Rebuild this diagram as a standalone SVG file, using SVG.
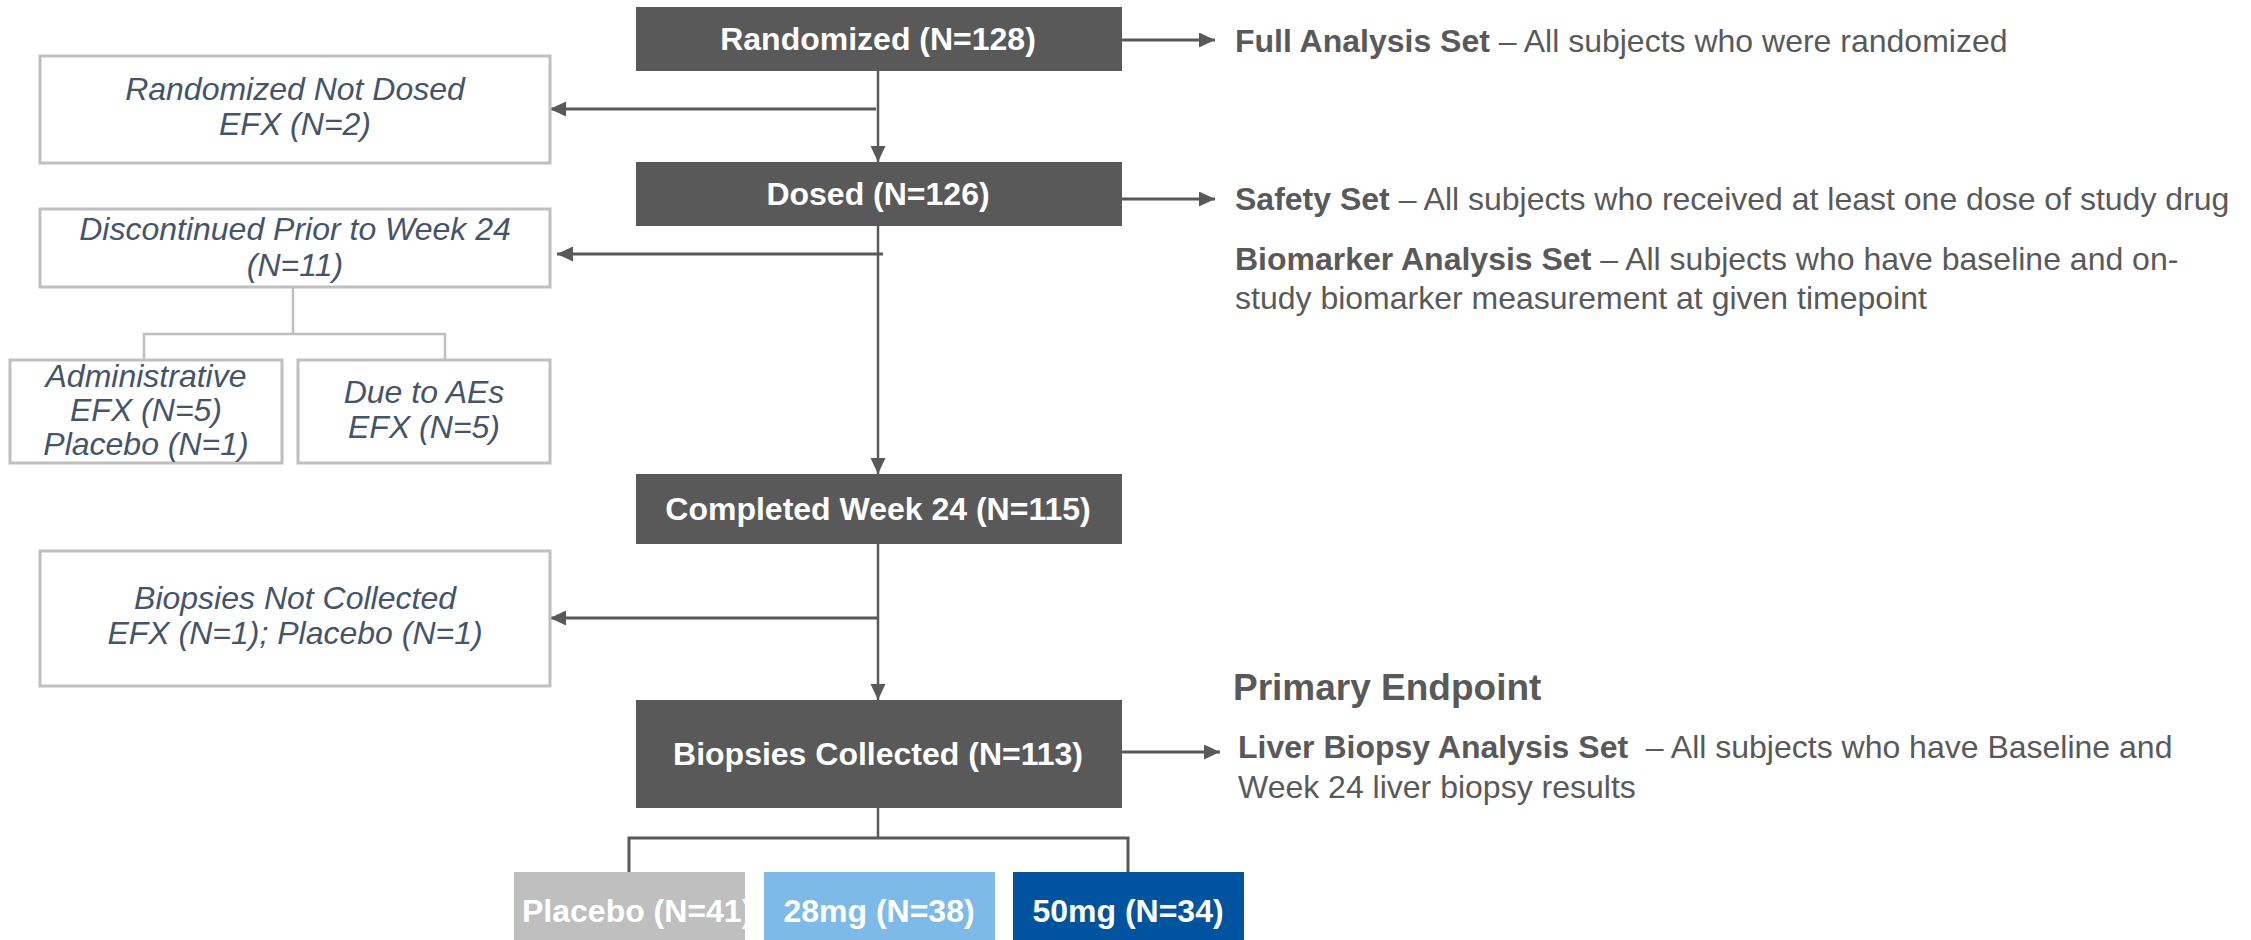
<svg xmlns="http://www.w3.org/2000/svg" width="2251" height="940" viewBox="0 0 2251 940">
<style>
text{font-family:"Liberation Sans",Arial,sans-serif;font-size:32px}
.big{font-size:37px}
.dark{fill:#595959}
.wt{fill:#ffffff;font-weight:bold;text-anchor:middle}
.it{fill:#44546A;font-style:italic;text-anchor:middle}
.ob{fill:#ffffff;stroke:#BFBFBF;stroke-width:3}
.rt{fill:#595959}
.b{font-weight:bold}
.conn{stroke:#595959;fill:none}
.thin{stroke:#BFBFBF;stroke-width:2.5;fill:none}
</style>
<defs>
<marker id="ah" markerUnits="userSpaceOnUse" markerWidth="16" markerHeight="16" refX="16" refY="7.5" orient="auto">
<path d="M0,0 L16,7.5 L0,15 z" fill="#595959"/>
</marker>
<clipPath id="clipPl"><rect x="514" y="872" width="231" height="68"/></clipPath>
</defs>
<rect width="2251" height="940" fill="#ffffff"/>

<g id="connectors">
<line class="conn" stroke-width="2.5" x1="878" y1="71" x2="878" y2="162" marker-end="url(#ah)"/>
<line class="conn" stroke-width="2.5" x1="878" y1="226" x2="878" y2="474" marker-end="url(#ah)"/>
<line class="conn" stroke-width="2.5" x1="878" y1="544" x2="878" y2="700" marker-end="url(#ah)"/>
<line class="conn" stroke-width="2.5" x1="878" y1="808" x2="878" y2="838"/>
<polyline class="conn" stroke-width="3" points="629,872 629,838 1128,838 1128,872"/>
<line class="conn" stroke-width="3" x1="876" y1="109" x2="550" y2="109" marker-end="url(#ah)"/>
<line class="conn" stroke-width="3" x1="883" y1="254" x2="557" y2="254" marker-end="url(#ah)"/>
<line class="conn" stroke-width="3" x1="877" y1="618" x2="550" y2="618" marker-end="url(#ah)"/>
<line class="conn" stroke-width="3" x1="1122" y1="40" x2="1215" y2="40" marker-end="url(#ah)"/>
<line class="conn" stroke-width="3" x1="1122" y1="199" x2="1215" y2="199" marker-end="url(#ah)"/>
<line class="conn" stroke-width="3" x1="1122" y1="752" x2="1220" y2="752" marker-end="url(#ah)"/>
<line class="thin" x1="293" y1="287" x2="293" y2="334"/>
<polyline class="thin" points="144,359 144,334 445,334 445,359"/>
</g>

<g id="randomized">
<rect class="dark" x="636" y="7" width="486" height="64"/>
<text class="wt" x="878" y="50">Randomized (N=128)</text>
</g>
<g id="dosed">
<rect class="dark" x="636" y="162" width="486" height="64"/>
<text class="wt" x="878" y="205">Dosed (N=126)</text>
</g>
<g id="completed">
<rect class="dark" x="636" y="474" width="486" height="70"/>
<text class="wt" x="878" y="520">Completed Week 24 (N=115)</text>
</g>
<g id="biopsies-collected">
<rect class="dark" x="636" y="700" width="486" height="108"/>
<text class="wt" x="878" y="765">Biopsies Collected (N=113)</text>
</g>

<g id="not-dosed">
<rect class="ob" x="40" y="56" width="510" height="107"/>
<text class="it" x="295" y="100">Randomized Not Dosed</text>
<text class="it" x="295" y="135">EFX (N=2)</text>
</g>
<g id="discontinued">
<rect class="ob" x="40" y="209" width="510" height="78"/>
<text class="it" x="295" y="240">Discontinued Prior to Week 24</text>
<text class="it" x="295" y="276">(N=11)</text>
</g>
<g id="administrative">
<rect class="ob" x="10" y="360" width="272" height="103"/>
<text class="it" x="146" y="387">Administrative</text>
<text class="it" x="146" y="421">EFX (N=5)</text>
<text class="it" x="146" y="455">Placebo (N=1)</text>
</g>
<g id="due-to-aes">
<rect class="ob" x="298" y="360" width="252" height="103"/>
<text class="it" x="424" y="403">Due to AEs</text>
<text class="it" x="424" y="438">EFX (N=5)</text>
</g>
<g id="biopsies-not-collected">
<rect class="ob" x="40" y="551" width="510" height="135"/>
<text class="it" x="295" y="609">Biopsies Not Collected</text>
<text class="it" x="295" y="644">EFX (N=1); Placebo (N=1)</text>
</g>

<g id="placebo">
<rect x="514" y="872" width="231" height="68" fill="#BFBFBF"/>
<text clip-path="url(#clipPl)" x="522" y="922" fill="#ffffff" font-weight="bold">Placebo (N=41)</text>
</g>
<g id="mg28">
<rect x="764" y="872" width="231" height="68" fill="#7EBAE7"/>
<text class="wt" x="879" y="922">28mg (N=38)</text>
</g>
<g id="mg50">
<rect x="1013" y="872" width="231" height="68" fill="#00549F"/>
<text class="wt" x="1128" y="922">50mg (N=34)</text>
</g>

<g id="full-analysis-set">
<text class="rt" x="1235" y="52"><tspan class="b">Full Analysis Set</tspan> – All subjects who were randomized</text>
</g>
<g id="safety-set">
<text class="rt" x="1235" y="210"><tspan class="b">Safety Set</tspan> – All subjects who received at least one dose of study drug</text>
</g>
<g id="biomarker-set">
<text class="rt" x="1235" y="270"><tspan class="b">Biomarker Analysis Set</tspan> – All subjects who have baseline and on-</text>
<text class="rt" x="1235" y="309">study biomarker measurement at given timepoint</text>
</g>
<g id="primary-endpoint">
<text class="rt b big" x="1233" y="700">Primary Endpoint</text>
</g>
<g id="liver-biopsy-set">
<text class="rt" x="1238" y="758" xml:space="preserve"><tspan class="b">Liver Biopsy Analysis Set</tspan>  – All subjects who have Baseline and</text>
<text class="rt" x="1238" y="798">Week 24 liver biopsy results</text>
</g>
</svg>
